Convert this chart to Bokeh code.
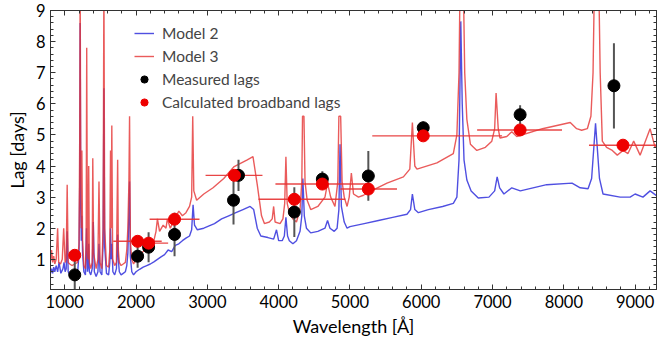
from bokeh.plotting import figure
from bokeh.models import Range1d, LinearAxis, SingleIntervalTicker, Legend, LegendItem, CustomJSTickFormatter
from bokeh.embed import file_html
from bokeh.resources import INLINE

# ---- data ----
m2_wl = [800, 815, 830, 845, 860, 880, 900, 920, 945, 975, 990, 1005, 1020, 1034, 1048, 1070,
         1100, 1140, 1180, 1200, 1210, 1216, 1224, 1232, 1240, 1250, 1268, 1290, 1305, 1318,
         1328, 1336, 1345, 1365, 1385, 1400, 1415, 1440, 1465, 1480, 1495, 1520, 1538, 1549,
         1560, 1585, 1615, 1632, 1642, 1652, 1662, 1675, 1700, 1725, 1742, 1752, 1765, 1790,
         1820, 1850, 1870, 1885, 1900, 1909, 1920, 1940, 1965, 2000, 2050, 2100, 2150, 2200,
         2250, 2300, 2350, 2400, 2450, 2500, 2550, 2600, 2650, 2700, 2750, 2780, 2800, 2820,
         2860, 2950, 3000, 3100, 3200, 3300, 3400, 3500, 3600, 3650, 3700, 3750, 3850, 3930,
         3970, 4000, 4050, 4080, 4102, 4125, 4150, 4200, 4250, 4300, 4325, 4340, 4360, 4390,
         4450, 4550, 4650, 4686, 4720, 4780, 4820, 4845, 4861, 4880, 4920, 4960, 5000, 5200,
         5400, 5600, 5800, 5850, 5876, 5910, 5960, 6100, 6300, 6450, 6500, 6530, 6555, 6575,
         6600, 6640, 6700, 6800, 6950, 7030, 7065, 7100, 7160, 7270, 7390, 7760, 8115, 8230,
         8340, 8390, 8445, 8500, 8550, 8790, 8930, 9000, 9110, 9210, 9300]
m2_lag = [0.55, 0.7, 0.55, 0.75, 0.6, 0.8, 0.6, 0.9, 0.55, 0.7, 0.9, 0.6, 0.7, 1.9, 0.6, 0.5,
          0.48, 0.45, 0.55, 1.2, 3.5, 8.6, 3.0, 1.6, 2.4, 1.2, 0.6, 0.5, 2.0, 0.6,
          0.8, 1.5, 0.6, 0.5, 0.7, 2.2, 0.6, 0.45, 0.6, 1.5, 0.6, 0.5, 1.5, 6.5,
          1.4, 0.55, 0.5, 0.9, 2.0, 1.0, 1.5, 0.6, 0.5, 0.7, 1.8, 1.0, 0.6, 0.5,
          0.55, 0.6, 0.8, 1.2, 2.5, 3.5, 1.1, 0.6, 0.5, 0.6, 0.68, 0.75, 0.8, 0.85,
          0.92, 1.0, 1.08, 1.15, 1.3, 1.25, 1.45, 1.5, 1.6, 1.68, 1.75, 1.95, 2.75, 2.1,
          1.95, 2.0, 2.05, 2.15, 2.3, 2.4, 2.5, 2.6, 2.7, 2.6, 2.0, 1.75, 1.7, 1.65,
          1.95, 1.6, 1.6, 1.75, 2.35, 1.75, 1.6, 1.5, 1.6, 1.9, 2.4, 3.6, 2.4, 2.0,
          1.85, 1.9, 2.0, 2.25, 2.0, 1.9, 2.0, 2.6, 4.7, 2.7, 2.2, 2.0, 2.05, 2.15,
          2.25, 2.35, 2.45, 2.6, 3.1, 2.6, 2.5, 2.6, 2.7, 2.8, 3.0, 4.2, 8.65, 6.0,
          4.2, 3.55, 3.2, 2.97, 3.0, 3.2, 3.65, 3.3, 3.1, 3.3, 3.2, 3.4, 3.45, 3.3,
          3.27, 3.6, 5.37, 3.6, 3.1, 3.0, 3.0, 3.1, 3.0, 3.2, 3.05]

m3_wl = [800, 815, 830, 845, 860, 880, 900, 915, 940, 965, 985, 1005, 1020, 1034, 1048, 1070,
         1100, 1140, 1180, 1200, 1210, 1216, 1224, 1232, 1240, 1250, 1268, 1290, 1300, 1308,
         1318, 1328, 1336, 1345, 1365, 1385, 1393, 1405, 1440, 1465, 1480, 1495, 1520, 1538,
         1549, 1560, 1585, 1615, 1632, 1642, 1652, 1660, 1672, 1700, 1725, 1742, 1752, 1765,
         1790, 1820, 1850, 1870, 1885, 1900, 1909, 1920, 1940, 1965, 2000, 2050, 2100, 2160,
         2250, 2280, 2300, 2330, 2380, 2420, 2440, 2480, 2520, 2600, 2650, 2700, 2750, 2780,
         2795, 2810, 2850, 2950, 3080, 3230, 3370, 3560, 3640, 3700, 3760, 3800, 3870, 3910,
         3930, 3950, 4020, 4060, 4085, 4102, 4120, 4150, 4200, 4250, 4300, 4325, 4335, 4355,
         4370, 4400, 4450, 4550, 4650, 4686, 4730, 4790, 4830, 4845, 4870, 4890, 4920, 4960,
         4990, 5020, 5050, 5120, 5190, 5300, 5520, 5750, 5840, 5876, 5910, 5940, 6220, 6450,
         6500, 6530, 6545, 6590, 6610, 6640, 6690, 6780, 6900, 6990, 7030, 7050, 7080, 7105,
         7200, 7270, 7340, 7700, 8090, 8180, 8250, 8330, 8380, 8410, 8430, 8490, 8510, 8540,
         8600, 8680, 8750, 8830, 8900, 8980, 9070, 9210, 9280, 9300]
m3_lag = [0.95, 1.3, 0.9, 1.1, 0.85, 1.0, 2.0, 0.9, 0.85, 1.0, 2.0, 0.9, 1.0, 3.4, 0.9, 0.85,
          0.8, 0.85, 0.9, 1.5, 5.0, 10.0, 4.0, 2.0, 4.5, 1.6, 0.8, 0.7, 1.5, 7.8,
          1.2, 1.0, 4.0, 0.9, 0.7, 0.9, 4.25, 1.2, 0.7, 1.0, 3.5, 0.9, 0.7, 2.0,
          10.0, 2.0, 0.8, 0.75, 1.3, 4.5, 2.0, 5.3, 1.0, 0.8, 0.9, 4.2, 1.3, 0.9,
          0.8, 0.85, 0.9, 1.3, 2.0, 3.5, 5.6, 1.6, 1.0, 0.85, 1.0, 1.15, 1.25, 1.45,
          1.6, 1.9, 2.3, 1.9, 2.1, 2.0, 2.3, 2.0, 2.2, 2.55, 2.4, 2.5, 2.7, 3.0,
          5.6, 3.2, 2.9, 3.1, 3.3, 3.6, 3.97, 4.2, 4.3, 3.4, 2.4, 2.15, 2.2, 2.3,
          2.7, 2.2, 2.15, 2.3, 2.8, 4.3, 2.8, 2.5, 2.3, 2.2, 2.6, 3.5, 5.6, 5.6,
          3.5, 2.9, 2.6, 2.7, 3.0, 3.45, 3.0, 2.7, 3.5, 5.6, 5.6, 3.5, 3.0, 2.7,
          3.0, 3.77, 3.1, 3.0, 3.06, 3.2, 3.45, 3.65, 3.9, 5.4, 4.0, 3.9, 4.1, 4.4,
          5.0, 7.0, 10.0, 10.0, 7.0, 5.5, 4.7, 4.5, 4.6, 4.8, 5.2, 6.35, 5.2, 4.9,
          4.95, 5.1, 4.95, 5.2, 5.4, 5.2, 5.15, 5.2, 5.6, 7.0, 10.0, 10.0, 7.0, 4.8,
          4.6, 4.5, 4.35, 4.5, 4.4, 4.8, 4.35, 5.2, 4.6, 4.7]

meas_wl = [1140, 2022, 2176, 2540, 3367, 3437, 4220, 4613, 5258, 6028, 7387, 8703]
meas_lag = [0.5, 1.1, 1.39, 1.8, 2.9, 3.7, 2.52, 3.58, 3.68, 5.23, 5.65, 6.58]
meas_err = [0.45, 0.37, 0.48, 0.7, 0.78, 0.5, 0.8, 0.25, 0.8, 0.2, 0.3, 1.37]

calc_wl = [1140, 2022, 2176, 2540, 3380, 4220, 4613, 5258, 6028, 7387, 8830]
calc_lag = [1.13, 1.58, 1.52, 2.29, 3.7, 2.93, 3.42, 3.26, 4.97, 5.16, 4.67]
calc_lo = [1140, 1680, 1950, 2190, 2975, 3717, 3955, 4865, 5313, 6784, 8353]
calc_hi = [1140, 2360, 2450, 2890, 3773, 4935, 5285, 5660, 7134, 7975, 9400]

FONT = "Lato"
BLUE = "#3030dc"
RED = "#e53232"

p = figure(width=657, height=343, output_backend="svg", toolbar_location=None,
           x_range=Range1d(800, 9300), y_range=Range1d(0.03, 9),
           min_border_left=50, min_border_right=1, min_border_top=10, min_border_bottom=54)
p.grid.visible = False
p.outline_line_color = "#222222"
p.outline_line_width = 1
p.background_fill_color = "white"
p.border_fill_color = "white"

xt = SingleIntervalTicker(interval=1000, num_minor_ticks=5)
yt = SingleIntervalTicker(interval=1, num_minor_ticks=5)
p.xaxis.ticker = xt
p.yaxis.ticker = yt
p.xaxis.axis_label = "Wavelength [Å]"
p.yaxis.axis_label = "Lag [days]"

for ax in (p.xaxis[0], p.yaxis[0]):
    ax.major_tick_in = 5
    ax.major_tick_out = 0
    ax.minor_tick_in = 3
    ax.minor_tick_out = 0
    ax.axis_line_color = "#333333"
    ax.major_tick_line_color = "#333333"
    ax.minor_tick_line_color = "#333333"
    ax.major_label_text_font = FONT
    ax.major_label_text_font_size = "16.5px"
    ax.major_label_text_color = "black"
    ax.axis_label_text_font = FONT
    ax.axis_label_text_font_size = "18px"
    ax.axis_label_text_font_style = "normal"
    ax.axis_label_text_color = "black"
p.xaxis.major_label_standoff = 5
p.xaxis.axis_label_standoff = 4
p.yaxis.major_label_standoff = 5
p.yaxis.axis_label_standoff = 5

blank = CustomJSTickFormatter(code="return '';")
for loc, tk in (("above", xt), ("right", yt)):
    ax = LinearAxis(ticker=tk, formatter=blank, major_label_standoff=0,
                    major_label_text_color=None,
                    major_tick_in=5, major_tick_out=0, minor_tick_in=3, minor_tick_out=0,
                    axis_line_color="#333333", major_tick_line_color="#333333",
                    minor_tick_line_color="#333333")
    p.add_layout(ax, loc)

r_m2 = p.line(m2_wl, m2_lag, line_color=BLUE, line_width=1.4, line_alpha=0.85)
r_m3 = p.line(m3_wl, m3_lag, line_color=RED, line_width=1.4, line_alpha=0.8)

# horizontal bands of calculated lags
p.segment(x0=calc_lo, y0=calc_lag, x1=calc_hi, y1=calc_lag, line_color=RED, line_width=1.4, line_alpha=0.9)

# error bars for measured lags
lo = [v - e for v, e in zip(meas_lag, meas_err)]
hi = [v + e for v, e in zip(meas_lag, meas_err)]
p.segment(x0=meas_wl, y0=lo, x1=meas_wl, y1=hi, line_color="#555555", line_width=2)

r_meas = p.scatter(meas_wl, meas_lag, size=12, fill_color="black", line_color="black")
r_calc = p.scatter(calc_wl, calc_lag, size=12, fill_color="#ee0000", line_color="#ee0000")

legend = Legend(items=[
    LegendItem(label="Model 2", renderers=[r_m2]),
    LegendItem(label="Model 3", renderers=[r_m3]),
    LegendItem(label="Measured lags", renderers=[r_meas]),
    LegendItem(label="Calculated broadband lags", renderers=[r_calc]),
], location=(80, 174))
legend.background_fill_alpha = 0
legend.border_line_alpha = 0
legend.label_text_font = FONT
legend.label_text_font_size = "15.5px"
legend.glyph_width = 20
legend.glyph_height = 18
legend.label_height = 18
legend.spacing = 5
legend.label_standoff = 8
legend.padding = 4
legend.margin = 0
p.add_layout(legend, "center")

open("out.html", "w").write(file_html(p, INLINE))
